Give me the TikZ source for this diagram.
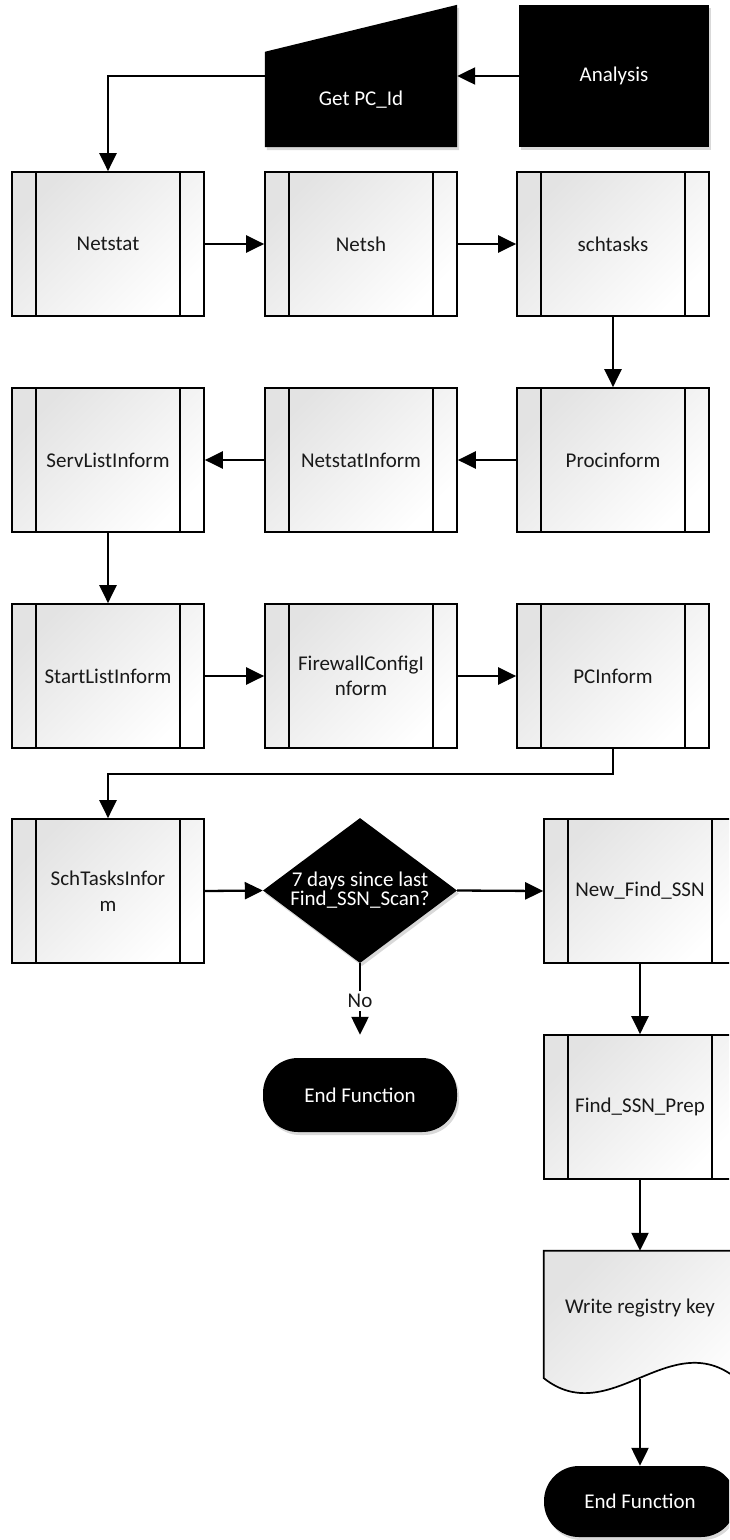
\documentclass[tikz,border=0pt]{standalone}
\usepackage{fontspec}
\setmainfont{Carlito}
\usetikzlibrary{arrows.meta,shapes.geometric,shadows,backgrounds,calc}
\tikzset{
  x=1pt, y=-1pt,
  lbl/.style={font=\fontsize{21}{25.5}\selectfont, align=center, inner sep=0pt},
  proc/.style={lbl, draw=black, line width=1.7pt, minimum width=192pt, minimum height=144pt,
    top color=black!11, bottom color=white, shading angle=45, text=black!90,
    path picture={
      \draw[line width=1.7pt] ([xshift=24pt]path picture bounding box.north west) -- ([xshift=24pt]path picture bounding box.south west);
      \draw[line width=1.7pt] ([xshift=-24pt]path picture bounding box.north east) -- ([xshift=-24pt]path picture bounding box.south east);}},
  shd/.style={drop shadow={opacity=0.3, shadow xshift=2pt, shadow yshift=-3pt}},
  blk/.style={lbl, fill=black, text=white, minimum width=190pt, minimum height=142pt, shd},
  term/.style={lbl, fill=black, text=white, rounded corners=35pt, shd},
  ghost/.style={inner sep=0pt},
  conn/.style={line width=2.3pt, -{Triangle[length=18pt,width=17pt]}},
}
\begin{document}
\begin{tikzpicture}
\useasboundingbox (0,0) rectangle (729,1540);
\clip (0,0) rectangle (729,1540);

% top row
\node[blk] (analysis) at (614,76) {Analysis};
\node[ghost, minimum width=192pt, minimum height=142pt] (getpc) at (361,76) {};
\begin{scope}[on background layer]
  \fill[black, shd] ($(getpc.north west)+(0,47)$) -- (getpc.north east) -- (getpc.south east) -- (getpc.south west) -- cycle;
\end{scope}
\node[lbl, text=white] (getpctxt) at (361,100) {Get PC\_Id};

% row 1
\node[proc] (netstat) at (108,244) {Netstat};
\node[proc] (netsh) at (361,244) {Netsh};
\node[proc] (schtasks) at (613,244) {schtasks};

% row 2
\node[proc] (servlist) at (108,460) {ServListInform};
\node[proc] (netstatinf) at (361,460) {NetstatInform};
\node[proc] (procinf) at (613,460) {Procinform};

% row 3
\node[proc] (startlist) at (108,676) {StartListInform};
\node[proc] (firewall) at (361,676) {FirewallConfigI\\nform};
\node[proc] (pcinf) at (613,676) {PCInform};

% row 4
\node[proc] (schtasksinf) at (108,891) {SchTasksInfor\\m};
\node[diamond, fill=black, shd, minimum width=194pt, minimum height=145pt, inner sep=0pt] (dec) at (360,890.5) {};
\node[lbl, text=white, font=\fontsize{21}{19.5}\selectfont] (dectxt) at (360,890) {7 days since last\\Find\_SSN\_Scan?};
\node[proc] (newfind) at (640,891) {New\_Find\_SSN};

\node[term, minimum width=194pt, minimum height=74pt] (end1) at (360,1095) {End Function};

\node[proc] (prep) at (640,1107) {Find\_SSN\_Prep};

% document shape
\node[ghost, minimum width=192pt, minimum height=144pt] (write) at (640,1323) {};
\begin{scope}[on background layer]
  \path[draw=black, line width=1.7pt, top color=black!11, bottom color=white, shading angle=45]
    (write.north west) -- (write.north east) -- ($(write.south east)+(0,-17)$)
    .. controls ($(write.south west)+(126,-70)$) and ($(write.south west)+(66,35)$) .. ($(write.south west)+(0,-17)$) -- cycle;
\end{scope}
\node[lbl, text=black!90] (writetxt) at (640,1308) {Write registry key};
\coordinate (wbot) at ($(write.south)+(0,-16)$);

\node[term, minimum width=192pt, minimum height=71pt] (end2) at (640,1501.5) {End Function};

% connectors
\draw[conn] (analysis.west) -- (analysis.west -| getpc.east);
\draw[conn] (getpc.west) -| (netstat.north);
\draw[conn] (netstat.east) -- (netsh.west);
\draw[conn] (netsh.east) -- (schtasks.west);
\draw[conn] (schtasks.south) -- (procinf.north);
\draw[conn] (procinf.west) -- (netstatinf.east);
\draw[conn] (netstatinf.west) -- (servlist.east);
\draw[conn] (servlist.south) -- (startlist.north);
\draw[conn] (startlist.east) -- (firewall.west);
\draw[conn] (firewall.east) -- (pcinf.west);
\draw[conn] (pcinf.south) -- ++(0,25) -| (schtasksinf.north);
\draw[conn] (schtasksinf.east) -- (dec.west);
\draw[conn] (dec.east) -- (newfind.west);
\draw[conn, shorten >=23pt] (dec.south) -- node[pos=0.4, lbl, fill=white, inner sep=3pt, text=black!90] (nolbl) {No} (end1.north);
\draw[conn] (newfind.south) -- (prep.north);
\draw[conn] (prep.south) -- (write.north);
\draw[conn] (wbot) -- (end2.north);
\end{tikzpicture}
\end{document}
